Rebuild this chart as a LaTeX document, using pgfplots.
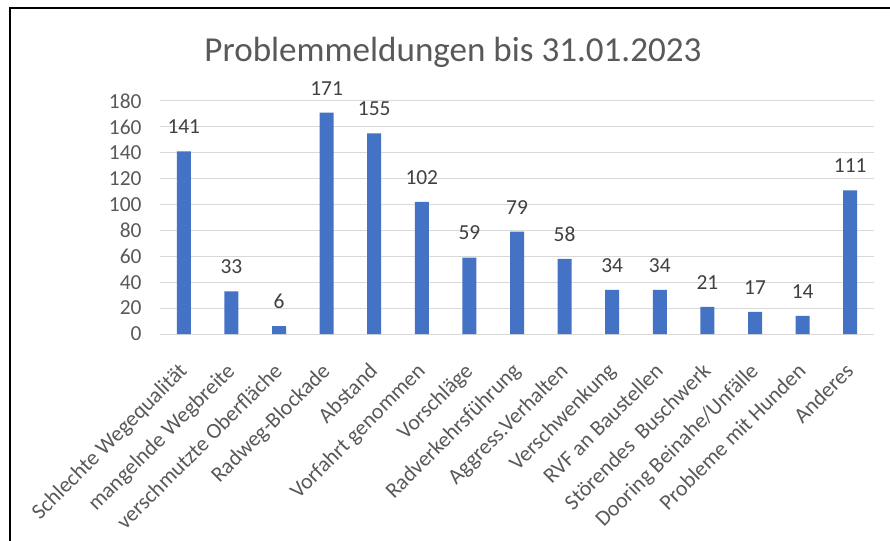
\documentclass[border=0pt]{standalone}
\usepackage{pgfplots}
\pgfplotsset{compat=1.18}
\usepackage{fontspec}
\setmainfont{Carlito}
\definecolor{barblue}{HTML}{4472C4}
\definecolor{txtgray}{HTML}{595959}
\definecolor{lblgray}{HTML}{404040}
\definecolor{gridgray}{HTML}{D9D9D9}
\begin{document}
\begin{tikzpicture}
\useasboundingbox (0,0) rectangle (890bp,541bp);
\fill[white] (0,0) rectangle (890bp,541bp);
\draw[line width=2.5bp,black] (10bp,0) -- (10bp,533bp) -- (890bp,533bp);
\node[font=\fontsize{35.2}{40}\selectfont, text=txtgray] at (453bp,489bp) {Problemmeldungen bis 31.01.2023};
\begin{axis}[
  at={(160bp,207bp)}, anchor=south west,
  scale only axis, width=714bp, height=233bp,
  ybar, bar width=14bp,
  xmin=-0.5, xmax=14.5, ymin=0, ymax=180,
  ytick={0,20,...,180},
  xtick={0,...,14},
  xticklabels={Schlechte Wegequalität, mangelnde Wegbreite, verschmutzte Oberfläche, Radweg-Blockade, Abstand, Vorfahrt genommen, Vorschläge, Radverkehrsführung, Aggress.Verhalten, Verschwenkung, RVF an Baustellen, Störendes\ \ Buschwerk, Dooring Beinahe/Unfälle, Probleme mit Hunden, Anderes},
  major tick length=0pt,
  ymajorgrids, grid style={gridgray, line width=1bp},
  axis lines*=left,
  y axis line style={draw=none},
  x axis line style={gridgray, line width=1bp, -},
  /pgf/number format/assume math mode=true,
  yticklabel style={font=\fontsize{21.5}{24}\selectfont, text=txtgray, xshift=-15bp},
  xticklabel style={font=\fontsize{22}{24}\selectfont, text=txtgray, rotate=45, anchor=north east, xshift=-20.5bp, yshift=-11.5bp},
  nodes near coords,
  every node near coord/.append style={font=\fontsize{21.5}{24}\selectfont, text=lblgray, yshift=14bp},
  clip=false,
]
\addplot[fill=barblue, draw=none] coordinates {
(0,141) (1,33) (2,6) (3,171) (4,155) (5,102) (6,59) (7,79) (8,58) (9,34) (10,34) (11,21) (12,17) (13,14) (14,111)
};
\end{axis}
\end{tikzpicture}
\end{document}
